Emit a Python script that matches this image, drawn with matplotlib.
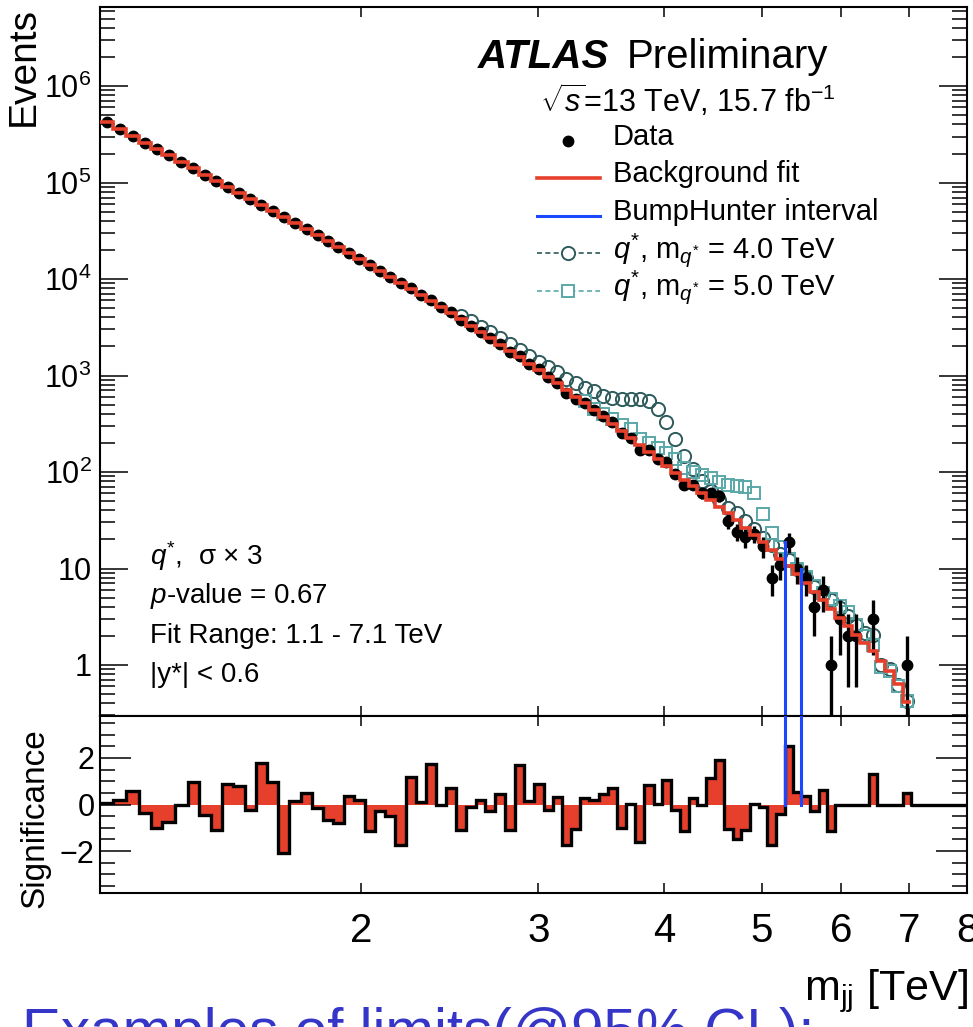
import numpy as np
import matplotlib
matplotlib.use("Agg")
import matplotlib.pyplot as plt
from matplotlib.ticker import FixedLocator, FixedFormatter, NullLocator, LogLocator, MultipleLocator, NullFormatter

plt.rcParams['font.family'] = ['Liberation Sans', 'DejaVu Sans']
plt.rcParams['mathtext.fontset'] = 'custom'
plt.rcParams['mathtext.rm'] = 'Liberation Sans'
plt.rcParams['mathtext.it'] = 'Liberation Sans:italic'
plt.rcParams['mathtext.bf'] = 'Liberation Sans:bold'

# bin edges in TeV
edges = np.array([
    1.100, 1.134, 1.168, 1.203, 1.236, 1.269, 1.305, 1.344, 1.380, 1.417,
    1.453, 1.493, 1.532, 1.572, 1.611, 1.655, 1.697, 1.742, 1.788, 1.832,
    1.875, 1.921, 1.968, 2.015, 2.065, 2.113, 2.162, 2.215, 2.265, 2.317,
    2.373, 2.426, 2.482, 2.542, 2.601, 2.657, 2.718, 2.781, 2.843, 2.905,
    2.967, 3.036, 3.099, 3.163, 3.234, 3.302, 3.370, 3.443, 3.514, 3.591,
    3.668, 3.744, 3.822, 3.905, 3.981, 4.063, 4.144, 4.230, 4.313, 4.402,
    4.497, 4.583, 4.679, 4.770, 4.864, 4.966, 5.062, 5.171, 5.270, 5.368,
    5.476, 5.581, 5.697, 5.807, 5.919, 6.033, 6.150, 6.268, 6.388, 6.512,
    6.637, 6.764, 6.911, 7.039])

# background fit per bin (events)
fit = np.array([
    419800, 356000, 302000, 258200, 222800, 191400, 163300, 140000, 120800, 104700,
    90570, 78340, 67760, 58750, 50930, 44060, 38020, 32810, 28380, 24720,
    21580, 18660, 16220, 14030, 12160, 10590, 9162, 7943, 6902, 5957,
    5140, 4457, 3828, 3281, 2831, 2443, 2089, 1786, 1538, 1321,
    1130, 966, 830, 708, 604, 516, 440, 373, 316, 267,
    225, 190, 160, 135, 115, 97.7, 83.2, 70.8, 60.3, 51.3,
    43.7, 37.2, 31.6, 26.3, 22.4, 18.6, 15.5, 12.6, 10.5, 8.71,
    7.08, 5.75, 4.68, 3.80, 3.09, 2.51, 2.04, 1.70, 1.38, 1.10,
    0.871, 0.631, 0.417])

# observed events per bin
data = np.array([
    419830, 356120, 302310, 258020, 222330, 191060, 163290, 140370, 120650, 104350,
    90835, 78564, 67700, 59186, 51145, 43619, 38045, 32902, 28353, 24613,
    21465, 18708, 16247, 13897, 12131, 10539, 8995, 8046, 6910, 6090,
    5140, 4504, 3760, 3275, 2842, 2430, 2110, 1740, 1604, 1326,
    1161, 959, 840, 662, 578, 522, 444, 382, 329, 251,
    225, 168, 171, 135, 126, 96, 73, 73, 60, 60,
    57, 31, 24, 21, 23, 17, 8, 11, 19, 10,
    8, 4, 6, 1, 3, 2, 2, 0, 3, 0,
    0, 0, 1])

# significance per bin
signif = np.array([
    0.05, 0.2, 0.57, -0.35, -1.0, -0.77, -0.03, 0.98, -0.44, -1.08,
    0.88, 0.8, -0.23, 1.8, 0.95, -2.1, 0.13, 0.51, -0.16, -0.68,
    -0.78, 0.35, 0.21, -1.13, -0.26, -0.5, -1.74, 1.16, 0.1, 1.73,
    0.0, 0.7, -1.1, -0.11, 0.2, -0.26, 0.45, -1.1, 1.7, 0.14,
    0.9, -0.23, 0.34, -1.72, -1.04, 0.27, 0.21, 0.45, 0.7, -1.0,
    0.03, -1.6, 0.84, 0.03, 1.05, -0.23, -1.13, 0.27, -0.04, 1.12,
    1.9, -1.06, -1.46, -1.1, 0.03, -0.09, -1.74, -0.4, 2.5, 0.52,
    0.38, -0.3, 0.62, -1.13, 0.0, 0.0, 0.0, 0.0, 1.3, 0.0,
    0.0, 0.0, 0.48])

# q* signal + background, m = 4.0 TeV (from bin 33) and 5.0 TeV (from bin 46)
q4_first_bin = 32
qstar4 = np.array([
    4170, 3680, 3210, 2805, 2455, 2100, 1837, 1589, 1380, 1236,
    1086, 912, 834, 746, 697, 619, 589, 577, 578, 574,
    542, 447, 331, 219, 148, 107, 81.3, 63.1, 51.3, 42.7,
    37.2, 30.9, 25.7, 20.9, 17.4, 14.1, 12.3, 10.0, 7.94, 6.46,
    5.50, 4.68, 3.89, 3.24, 2.57, 2.14, 2.04, 1.0, 0.9, 0.62,
    0.42])
q5_first_bin = 45
qstar5 = np.array([
    541, 450, 398, 352, 306, 277, 218, 201, 178, 158,
    135, 110, 100, 93.3, 87.1, 79.4, 74.1, 72.4, 69.2, 60.3,
    36.3, 23.4, 16.6, 12.6, 9.8, 8.1, 6.6, 5.6, 4.8, 4.1,
    3.5, 2.6, 2.0, 1.6, 0.95, 0.87, 0.6, 0.42])

# BumpHunter interval (TeV)
bh_lo, bh_hi = 5.270, 5.476

red = '#e6402c'
blue = '#1a47ff'
c4 = '#2d5a5a'
c5 = '#5aa8a8'

centers = np.sqrt(edges[:-1] * edges[1:])

W, H = 973, 1027
fig = plt.figure(figsize=(W / 100, H / 100), dpi=100)
ax1 = fig.add_axes([100 / W, 1 - 716 / H, 867 / W, 709 / H])
ax2 = fig.add_axes([100 / W, 1 - 893 / H, 867 / W, 177 / H])

# ---- main panel
ax1.set_xscale('log')
ax1.set_yscale('log')
ax1.set_xlim(1.1, 8.0)
ax1.set_ylim(0.296, 6.6e6)

ax1.plot(centers[q4_first_bin:q4_first_bin + len(qstar4)], qstar4, ls='none', marker='o',
         ms=9.5, mfc='none', mec=c4, mew=1.4, zorder=2)
ax1.plot(centers[q5_first_bin:q5_first_bin + len(qstar5)], qstar5, ls='none', marker='s',
         ms=8.5, mfc='none', mec=c5, mew=1.4, zorder=2.5)
m = data > 0
ax1.errorbar(centers[m], data[m], yerr=np.sqrt(data[m]), fmt='o', color='k', ms=7.5,
             elinewidth=2.4, capsize=0, zorder=3)
ax1.stairs(fit, edges, color=red, lw=2.6, baseline=None, zorder=4)

i_lo = int(np.argmin(abs(edges - bh_lo)))
i_hi = int(np.argmin(abs(edges - bh_hi)))
ax1.plot([bh_lo, bh_lo], [1e-3, data[i_lo]], color=blue, lw=2.2, zorder=5)
ax1.plot([bh_hi, bh_hi], [1e-3, data[i_hi - 1]], color=blue, lw=2.2, zorder=5)

# ---- significance panel
ax2.set_xscale('log')
ax2.set_xlim(1.1, 8.0)
ax2.set_ylim(-3.8, 3.8)
ax2.bar(edges[:-1], signif, width=np.diff(edges), align='edge', color=red, lw=0, zorder=1)
ax2.stairs(signif, edges, color='k', lw=2.4, baseline=None, zorder=3)
ax2.plot([edges[-1], edges[-1], 8.0], [signif[-1], 0, 0], color='k', lw=2.4, zorder=3)
ax2.plot([bh_lo, bh_lo], [0, 3.8], color=blue, lw=2.2, zorder=5)
ax2.plot([bh_hi, bh_hi], [0, 3.8], color=blue, lw=2.2, zorder=5)

xt = [2, 3, 4, 5, 6, 7, 8]
for ax in (ax1, ax2):
    for s in ax.spines.values():
        s.set_linewidth(1.5)
    ax.xaxis.set_major_locator(FixedLocator(xt))
    ax.xaxis.set_minor_locator(NullLocator())
    ax.tick_params(which='both', direction='in', top=True, right=True, width=1.1)
    ax.tick_params(axis='x', which='major', length=7)

ax1.xaxis.set_major_formatter(NullFormatter())
ax1.xaxis.set_minor_formatter(NullFormatter())
ax2.xaxis.set_major_formatter(FixedFormatter([str(v) for v in xt]))
ax2.tick_params(axis='x', labelsize=29, pad=14)

yt = [1, 10, 1e2, 1e3, 1e4, 1e5, 1e6]
ax1.yaxis.set_major_locator(FixedLocator(yt))
ax1.yaxis.set_major_formatter(FixedFormatter(['1', '10', '$10^{2}$', '$10^{3}$',
                                              '$10^{4}$', '$10^{5}$', '$10^{6}$']))
ax1.yaxis.set_minor_locator(LogLocator(base=10, subs=np.arange(2, 10), numticks=30))
ax1.yaxis.set_minor_formatter(NullFormatter())
ax1.tick_params(axis='y', which='major', length=20, labelsize=22, pad=6)
ax1.tick_params(axis='y', which='minor', length=11)

ax2.yaxis.set_major_locator(FixedLocator([-2, 0, 2]))
ax2.yaxis.set_minor_locator(MultipleLocator(0.5))
ax2.tick_params(axis='y', which='major', length=22, labelsize=22, pad=4)
ax2.tick_params(axis='y', which='minor', length=11)

# ---- text and legend, placed in pixel coordinates
ov = fig.add_axes([0, 0, 1, 1], zorder=10)
ov.set_xlim(0, W)
ov.set_ylim(H, 0)
ov.axis('off')

ov.text(478, 68, 'ATLAS', fontsize=29, fontweight='bold', fontstyle='italic', va='baseline')
ov.text(627, 68, 'Preliminary', fontsize=29, va='baseline')
ov.text(540, 112, r'$\sqrt{s}$=13 TeV, 15.7 fb$^{-1}$', fontsize=22, va='baseline')

lx0, lx1, lxm, tx = 537, 600, 568, 613
ov.plot([lxm], [141], 'o', color='k', ms=7.5)
ov.text(tx, 145, 'Data', fontsize=21, va='baseline')
ov.plot([lx0, lx1], [178, 178], color=red, lw=2.6)
ov.text(tx, 182, 'Background fit', fontsize=21, va='baseline')
ov.plot([lx0, lx1], [216, 216], color=blue, lw=2.2)
ov.text(tx, 220, 'BumpHunter interval', fontsize=21, va='baseline')
ov.plot([lx0, lx1], [253, 253], color=c4, lw=1.2, ls=(0, (3, 2)))
ov.plot([lxm], [253], 'o', ms=9.5, mfc='white', mec=c4, mew=1.4)
ov.text(tx, 258, r'$q^{*}$, $\mathrm{m}_{q^{*}}$ = 4.0 TeV', fontsize=21, va='baseline')
ov.plot([lx0, lx1], [291, 291], color=c5, lw=1.2, ls=(0, (3, 2)))
ov.plot([lxm], [291], 's', ms=8.5, mfc='white', mec=c5, mew=1.4)
ov.text(tx, 295, r'$q^{*}$, $\mathrm{m}_{q^{*}}$ = 5.0 TeV', fontsize=21, va='baseline')

ov.text(150, 565, r'$q^{*}$,  σ × 3', fontsize=20, va='baseline')
ov.text(150, 603, r'$p$-value = 0.67', fontsize=20, va='baseline')
ov.text(150, 643, 'Fit Range: 1.1 - 7.1 TeV', fontsize=20, va='baseline')
ov.text(150, 682, '|y*| < 0.6', fontsize=20, va='baseline')

ov.text(24, 7, 'Events', fontsize=28, rotation=90, ha='center', va='top')
ov.text(35, 818, 'Significance', fontsize=24, rotation=90, ha='center', va='center')
ov.text(968, 1000, r'$\mathrm{m}_{\mathrm{jj}}$ [TeV]', fontsize=31, ha='right', va='baseline')
ov.text(22, 1049, 'Examples of limits(@95% CL):', fontsize=42, color='#3535c8', va='baseline')

fig.savefig('out.png', dpi=100)
